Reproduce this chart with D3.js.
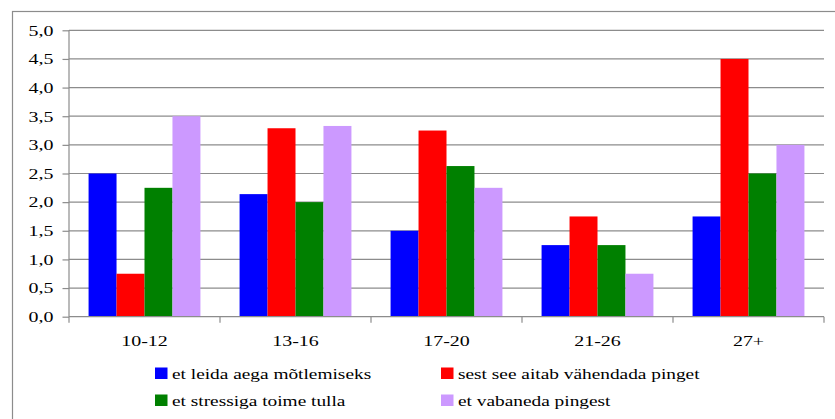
<!DOCTYPE html>
<html>
<head>
<meta charset="utf-8">
<script src="https://cdn.jsdelivr.net/npm/d3@7"></script>
<style>
  body { margin: 0; background: #fff; }
  svg text { font-family: "Liberation Serif", "DejaVu Serif", serif; }
</style>
</head>
<body>
<div id="chart"></div>
<script>
/* DATA */
const categories = ["10-12", "13-16", "17-20", "21-26", "27+"];
const seriesNames = ["et leida aega mõtlemiseks", "sest see aitab vähendada pinget", "et stressiga toime tulla", "et vabaneda pingest"];
const seriesColors = ["#0000ff", "#ff0000", "#008000", "#cc99ff"];
const thinking = [2.5, 2.14, 1.5, 1.25, 1.75];
const reduceTension = [0.75, 3.29, 3.25, 1.75, 4.5];
const copeStress = [2.25, 2.0, 2.63, 1.25, 2.5];
const releaseTension = [3.5, 3.33, 2.25, 0.75, 3.0];
const yTicks = [0, 0.5, 1, 1.5, 2, 2.5, 3, 3.5, 4, 4.5, 5];

const values = [thinking, reduceTension, copeStress, releaseTension];

const width = 835, height = 419;
const margin = { top: 30.3, left: 69, right: 11, bottom: 102.3 };
const stretch = 1.33; // the text in the original looks widened

const svg = d3.select("#chart").append("svg")
  .attr("width", width)
  .attr("height", height);

// widen a text horizontally around its own anchor point
function widen(sel, s) {
  sel.each(function () {
    const t = d3.select(this);
    const ax = +t.attr("x") || 0;
    t.attr("transform", `translate(${ax},0) scale(${s},1) translate(${-ax},0)`);
  });
}

// outer frame (cut off on right and bottom)
svg.append("rect")
  .attr("x", 12.5).attr("y", 11.5)
  .attr("width", 840).attr("height", 430)
  .attr("fill", "none")
  .attr("stroke", "#8c8c8c")
  .attr("stroke-width", 1.2);

const x0 = d3.scaleBand()
  .domain(categories)
  .range([margin.left, width - margin.right])
  .paddingInner(0)
  .paddingOuter(0);

const x1 = d3.scaleBand()
  .domain(d3.range(seriesNames.length))
  .range([0, x0.bandwidth()])
  .paddingOuter(0.7)
  .paddingInner(0);

const y = d3.scaleLinear()
  .domain([0, 5])
  .range([height - margin.bottom, margin.top]);

// gridlines
svg.append("g")
  .selectAll("line")
  .data(yTicks.slice(1))
  .join("line")
  .attr("x1", margin.left).attr("x2", width - margin.right)
  .attr("y1", d => y(d)).attr("y2", d => y(d))
  .attr("stroke", "#8c8c8c")
  .attr("stroke-width", 1.2);

// bars
const groups = svg.append("g")
  .selectAll("g")
  .data(categories)
  .join("g")
  .attr("transform", d => `translate(${x0(d)},0)`);

groups.selectAll("rect")
  .data((d, i) => values.map((s, j) => ({ s: j, v: s[i] })))
  .join("rect")
  .attr("x", d => x1(d.s))
  .attr("width", x1.bandwidth())
  .attr("y", d => y(d.v))
  .attr("height", d => y(0) - y(d.v))
  .attr("fill", d => seriesColors[d.s]);

// y axis
const yAxis = d3.axisLeft(y)
  .tickValues(yTicks)
  .tickSize(6.5)
  .tickPadding(9)
  .tickFormat(d => d3.format(".1f")(d).replace(".", ","));

const yAxisGroup = svg.append("g")
  .attr("transform", `translate(${margin.left},0)`)
  .call(yAxis);
yAxisGroup.attr("font-family", null).attr("font-size", null);
yAxisGroup.select(".domain").attr("stroke", "#8c8c8c").attr("stroke-width", 1.2).attr("d", `M0,${y(0)}V${y(5)}`);
yAxisGroup.selectAll(".tick line").attr("stroke", "#8c8c8c").attr("stroke-width", 1.2);
yAxisGroup.selectAll("text")
  .attr("font-size", 15)
  .attr("fill", "#000")
  .call(widen, stretch);

// x axis
const xAxis = d3.axisBottom(x0).tickSize(0).tickPadding(19);
const xAxisGroup = svg.append("g")
  .attr("transform", `translate(0,${y(0)})`)
  .call(xAxis);
xAxisGroup.attr("font-family", null).attr("font-size", null);
xAxisGroup.select(".domain").attr("stroke", "#8c8c8c").attr("stroke-width", 1.2).attr("d", `M${margin.left},0H${width - margin.right}`);
xAxisGroup.selectAll("text")
  .attr("font-size", 15)
  .attr("fill", "#000")
  .call(widen, stretch);

// category boundary ticks
xAxisGroup.append("g")
  .selectAll("line")
  .data(categories.map(c => x0(c)).concat([x0.range()[1]]))
  .join("line")
  .attr("x1", d => d).attr("x2", d => d)
  .attr("y1", 0).attr("y2", 6)
  .attr("stroke", "#8c8c8c")
  .attr("stroke-width", 1.2);

// legend
const legendPos = [[155, 367.5], [441, 367.5], [155, 394.5], [441, 394.5]];
const legend = svg.append("g")
  .selectAll("g")
  .data(seriesNames)
  .join("g")
  .attr("transform", (d, i) => `translate(${legendPos[i][0]},${legendPos[i][1]})`);

legend.append("rect")
  .attr("width", 12.5).attr("height", 11.5)
  .attr("fill", (d, i) => seriesColors[i]);

legend.append("text")
  .attr("x", 17).attr("y", 11.5)
  .attr("font-size", 15)
  .attr("fill", "#000")
  .text(d => d)
  .call(widen, 1.29);
</script>
</body>
</html>
